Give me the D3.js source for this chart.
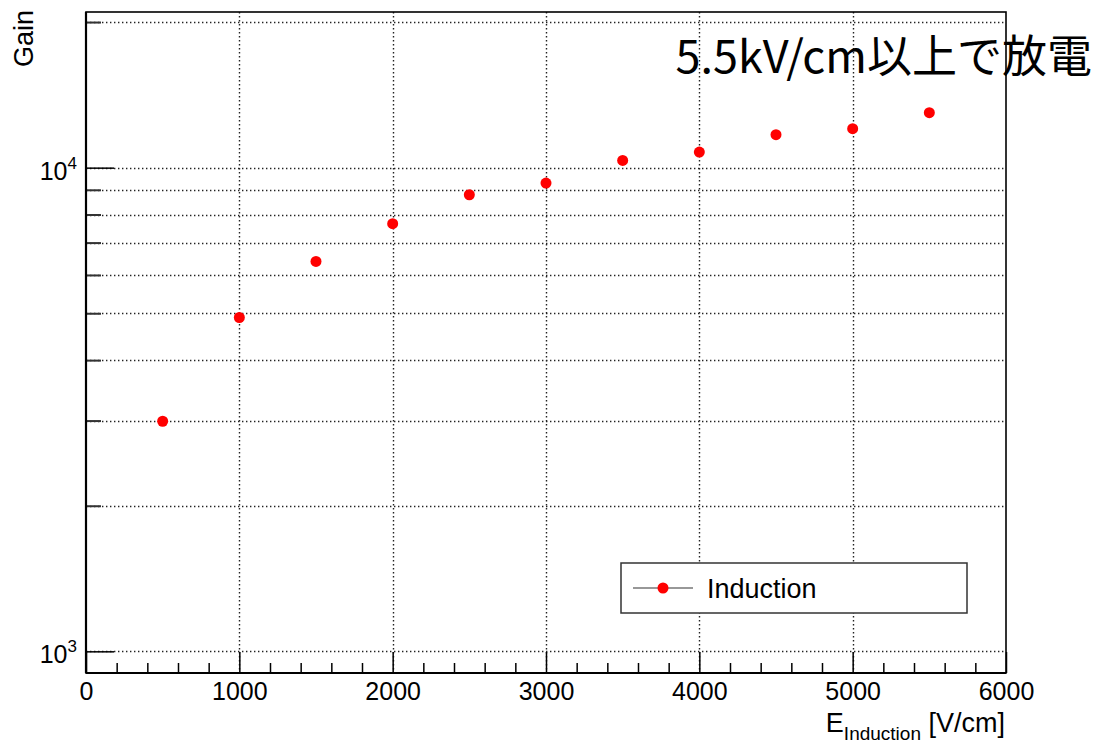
<!DOCTYPE html>
<html lang="ja">
<head>
<meta charset="UTF-8">
<title>Gain vs E_Induction</title>
<style>
  body { margin: 0; background: #fff; }
  svg { display: block; }
  .tick-label { font-family: "Liberation Sans", Arial, sans-serif; font-size: 25px; fill: #000; }
  .title { font-family: "Liberation Sans", Arial, sans-serif; font-size: 27px; fill: #000; }
  .note { font-family: "Noto Sans CJK JP", sans-serif; font-size: 45px; fill: #000; }
</style>
</head>
<body>
<svg id="chart" width="1094" height="743"></svg>

<script src="https://d3js.org/d3.v7.min.js"></script>
<script>
// data
var field = [500, 1000, 1500, 2000, 2500, 3000, 3500, 4000, 4500, 5000, 5500];
var gain = [2990, 4900, 6400, 7660, 8790, 9290, 10350, 10770, 11700, 12040, 12990];
var xMajor = [0, 1000, 2000, 3000, 4000, 5000, 6000];
var yMajor = [1000, 10000];
var yMinor = [2000, 3000, 4000, 5000, 6000, 7000, 8000, 9000, 20000];
var seriesName = "Induction";

var svg = d3.select("#chart"),
    padL = 86, padR = 1006, padT = 12, padB = 673;

var x = d3.scaleLinear().domain([0, 6000]).range([padL, padR]);
var y = d3.scaleLog().domain([902, 20980]).range([padB, padT]);

// grid (dotted)
var grid = svg.append("g")
  .attr("stroke", "#222")
  .attr("stroke-width", 1.4)
  .attr("stroke-dasharray", "1.4,2.6");

grid.selectAll(".gx")
  .data(xMajor.filter(function(d){ return d > 0 && d < 6000; }))
  .enter().append("line")
  .attr("x1", function(d){ return Math.round(x(d)) + 0.5; })
  .attr("x2", function(d){ return Math.round(x(d)) + 0.5; })
  .attr("y1", padT).attr("y2", padB);

grid.selectAll(".gy")
  .data(yMajor.concat(yMinor))
  .enter().append("line")
  .attr("x1", padL).attr("x2", padR)
  .attr("y1", function(d){ return Math.round(y(d)) + 0.5; })
  .attr("y2", function(d){ return Math.round(y(d)) + 0.5; });

// x axis ticks (inside the frame)
var xMinor = d3.range(0, 6001, 200).filter(function(d){ return d % 1000 != 0; });
var gx = svg.append("g").attr("transform", "translate(0," + padB + ")")
  .call(d3.axisBottom(x).tickValues(xMajor).tickSize(-21).tickSizeOuter(0)
    .tickFormat(d3.format("d")));
gx.select(".domain").remove();
gx.attr("font-family", null).attr("font-size", null);
gx.selectAll(".tick line").attr("stroke", "#000").attr("stroke-width", 1.5);
gx.selectAll(".tick text").attr("class", "tick-label").attr("dy", null).attr("y", 27);

var gxm = svg.append("g").attr("transform", "translate(0," + padB + ")")
  .call(d3.axisBottom(x).tickValues(xMinor).tickSize(-10).tickSizeOuter(0).tickFormat(""));
gxm.select(".domain").remove();
gxm.selectAll(".tick line").attr("stroke", "#000").attr("stroke-width", 1.5);

// y axis ticks
var gy = svg.append("g").attr("transform", "translate(" + padL + ",0)")
  .call(d3.axisLeft(y).tickValues(yMajor).tickSize(-28).tickSizeOuter(0).tickFormat(""));
gy.select(".domain").remove();
gy.selectAll(".tick line").attr("stroke", "#000").attr("stroke-width", 1.5);

var gym = svg.append("g").attr("transform", "translate(" + padL + ",0)")
  .call(d3.axisLeft(y).tickValues(yMinor).tickSize(-15).tickSizeOuter(0).tickFormat(""));
gym.select(".domain").remove();
gym.selectAll(".tick line").attr("stroke", "#333").attr("stroke-width", 2);

// y tick labels as 10^n
var ylab = svg.append("g").selectAll("text").data(yMajor).enter().append("text")
  .attr("class", "tick-label")
  .attr("text-anchor", "end")
  .attr("x", padL - 9)
  .attr("y", function(d){ return y(d) + 12; });
ylab.each(function(d){
  var t = d3.select(this);
  t.append("tspan").text("10");
  t.append("tspan").attr("font-size", "17px").attr("dy", -11).text(Math.round(Math.log10(d)));
});

// frame
svg.append("rect")
  .attr("x", padL).attr("y", padT)
  .attr("width", padR - padL).attr("height", padB - padT)
  .attr("fill", "none").attr("stroke", "#000").attr("stroke-width", 1.6);
svg.append("line").attr("x1", padL).attr("x2", padL).attr("y1", padT).attr("y2", padB)
  .attr("stroke", "#000").attr("stroke-width", 2.2);
svg.append("line").attr("x1", padL).attr("x2", padR).attr("y1", padB).attr("y2", padB)
  .attr("stroke", "#000").attr("stroke-width", 2.2);

// points
svg.append("g").selectAll("circle")
  .data(field.map(function(d, i){ return [d, gain[i]]; }))
  .enter().append("circle")
  .attr("cx", function(d){ return x(d[0]); })
  .attr("cy", function(d){ return y(d[1]); })
  .attr("r", 5.5)
  .attr("fill", "#ff0000");

// axis titles
var xt = svg.append("text").attr("class", "title")
  .attr("text-anchor", "end").attr("x", 1005).attr("y", 732);
xt.append("tspan").text("E");
xt.append("tspan").attr("font-size", "19px").attr("dy", 8).text("Induction");
xt.append("tspan").attr("dy", -8).text(" [V/cm]");

svg.append("text").attr("class", "title")
  .attr("text-anchor", "end")
  .attr("transform", "translate(33,10) rotate(-90)")
  .text("Gain");

// legend
var lg = svg.append("g");
lg.append("rect").attr("x", 621).attr("y", 563).attr("width", 346).attr("height", 50)
  .attr("fill", "#fff").attr("stroke", "#333").attr("stroke-width", 1.5);
lg.append("line").attr("x1", 633).attr("x2", 693).attr("y1", 588).attr("y2", 588)
  .attr("stroke", "#333").attr("stroke-width", 1.2);
lg.append("circle").attr("cx", 663).attr("cy", 588).attr("r", 5.5).attr("fill", "#ff0000");
lg.append("text").attr("class", "title").attr("x", 707).attr("y", 598).text(seriesName);

// annotation
svg.append("text").attr("class", "note")
  .attr("text-anchor", "end").attr("x", 1092).attr("y", 73)
  .text("5.5kV/cm以上で放電");
</script>
</body>
</html>
